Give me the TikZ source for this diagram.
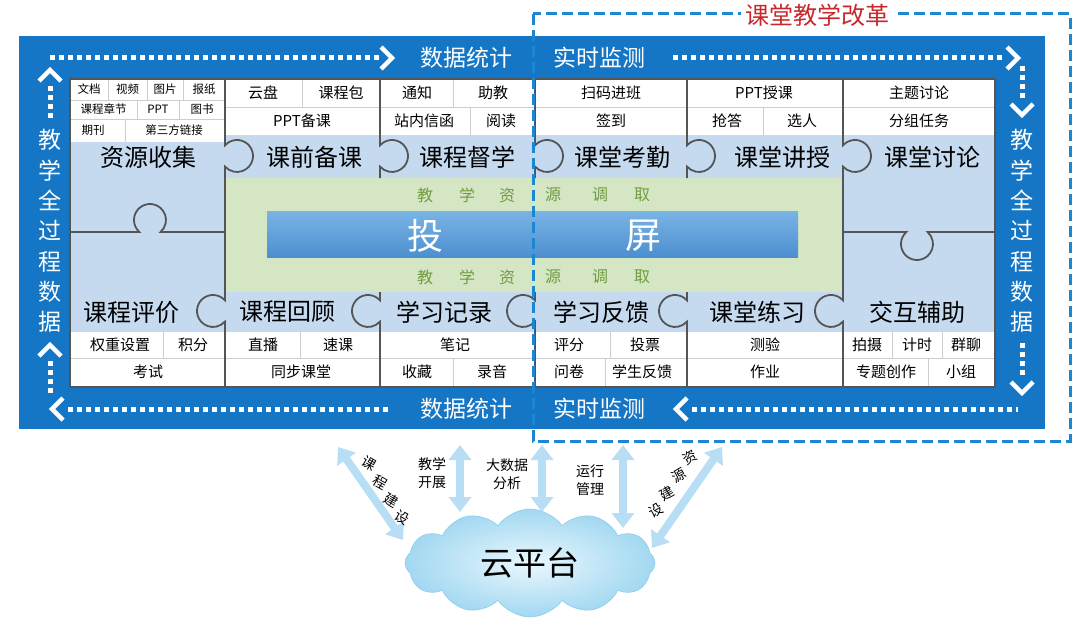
\documentclass[tikz,border=0pt]{standalone}
\usepackage{fontspec}
\setmainfont{Noto Sans CJK SC}
\usetikzlibrary{arrows.meta,shapes.symbols}
\definecolor{bandblue}{RGB}{20,118,196}
\definecolor{lblue}{RGB}{197,218,238}
\definecolor{lgreen}{RGB}{212,230,196}
\definecolor{gtext}{RGB}{114,156,66}
\definecolor{pline}{RGB}{85,85,85}
\definecolor{gridc}{RGB}{205,205,205}
\definecolor{dblue}{RGB}{27,135,210}
\definecolor{rtext}{RGB}{200,40,45}
\definecolor{arrblue}{RGB}{184,222,246}
\definecolor{barTop}{RGB}{122,180,228}
\definecolor{barBot}{RGB}{76,143,208}
\definecolor{cloudin}{RGB}{234,247,253}
\definecolor{cloudout}{RGB}{162,216,241}
\definecolor{cloudedge}{RGB}{140,205,236}
\begin{document}
\begin{tikzpicture}[x=1pt,y=-1pt,
  cell/.style={font=\fontsize{15}{15}\selectfont, inner sep=0pt},
  smallcell/.style={font=\fontsize{11.5}{11.5}\selectfont, inner sep=0pt},
  headtxt/.style={font=\fontsize{24}{24}\selectfont, inner sep=0pt},
  bandtxt/.style={font=\fontsize{23}{23}\selectfont, text=white, inner sep=0pt},
  vtext/.style={font=\fontsize{23}{30.3}\selectfont, text=white, align=center, inner sep=0pt},
  gtxt/.style={font=\fontsize{16}{16}\selectfont, text=gtext, inner sep=0pt},
  puz/.style={draw=pline, line width=1.8pt},
  gridl/.style={draw=gridc, line width=0.8pt},
  dotline/.style={draw=white, line width=5pt, dash pattern=on 5pt off 4pt},
  chev/.style={draw=white, line width=4.5pt, miter limit=10},
  redframe/.style={draw=dblue, line width=3pt, dash pattern=on 11pt off 5pt},
  dbl/.style={draw=arrblue, line width=8pt, {Triangle[width=22pt,length=15pt]}-{Triangle[width=22pt,length=15pt]}},
  lab/.style={font=\fontsize{14}{18}\selectfont, align=center, inner sep=0pt},
]
\useasboundingbox (0,0) rectangle (1080,618);

% blue band
\fill[bandblue] (19,36) rectangle (1045,429);

% panel fills
\fill[white] (70,79) rectangle (995,387);
\fill[lblue] (70,142) rectangle (225,332);
\fill[lblue] (225,135) rectangle (995,178);
\fill[lblue] (843,135) rectangle (995,332);
\fill[lblue] (225,292) rectangle (843,332);
\fill[lgreen] (225,178) rectangle (843,292);

% projection bar
\node[minimum width=531pt, minimum height=46pt, inner sep=0pt, top color=barTop, bottom color=barBot] (bar) at (532.5,234) {};
\node[font=\fontsize{36}{36}\selectfont, text=white, inner sep=0pt] (tou) at (425,236) {投};
\node[font=\fontsize{36}{36}\selectfont, text=white, inner sep=0pt] (ping) at (643,236) {屏};

% green texts
\foreach \ch/\xx [count=\k] in {教/425,学/467,资/507,源/553,调/600,取/642} {
  \node[gtxt] (gt\k) at (\xx,195) {\ch};
  \node[gtxt] (gb\k) at (\xx,277) {\ch};
}

% grid lines
\draw[gridl] (70,100) -- (225,100) (70,119) -- (225,119);
\draw[gridl] (108,79) -- (108,100) (147,79) -- (147,100) (183,79) -- (183,100);
\draw[gridl] (137,100) -- (137,119) (179,100) -- (179,119);
\draw[gridl] (125,119) -- (125,142);
\draw[gridl] (225,107) -- (995,107);
\draw[gridl] (302,79) -- (302,107) (453,79) -- (453,107);
\draw[gridl] (470,107) -- (470,135) (763,107) -- (763,135);
\draw[gridl] (70,358) -- (995,358);
\draw[gridl] (163,332) -- (163,358) (300,332) -- (300,358) (610,332) -- (610,358) (892,332) -- (892,358) (942,332) -- (942,358);
\draw[gridl] (453,358) -- (453,387) (605,358) -- (605,387) (928,358) -- (928,387);

% puzzle lines
\draw[puz] (225,79) -- (225,145.4) arc[start angle=-138.6,end angle=138.6,radius=16] -- (225,300.4) arc[start angle=-41.4,end angle=-318.6,radius=16] -- (225,387);
\draw[puz] (843,79) -- (843,145.4) arc[start angle=-138.6,end angle=138.6,radius=16] -- (843,300.4) arc[start angle=-41.4,end angle=-318.6,radius=16] -- (843,387);
\foreach \X in {380,535,687} {
  \draw[puz] (\X,79) -- (\X,145.4) arc[start angle=-138.6,end angle=138.6,radius=16] -- (\X,178);
  \draw[puz] (\X,292) -- (\X,300.4) arc[start angle=-41.4,end angle=-318.6,radius=16] -- (\X,387);
}
\draw[puz] (70,232) -- (139.4,232) arc[start angle=131.4,end angle=408.6,radius=16] -- (225,232);
\draw[puz] (843,232) -- (906.4,232) arc[start angle=228.6,end angle=-48.6,radius=16] -- (995,232);
\draw[puz] (70,79) rectangle (995,387);

% top cells
\node[smallcell] (c1) at (89,89.5) {文档};
\node[smallcell] (c2) at (127.5,89.5) {视频};
\node[smallcell] (c3) at (165,89.5) {图片};
\node[smallcell] (c4) at (204,89.5) {报纸};
\node[smallcell] (c5) at (103.5,109.5) {课程章节};
\node[smallcell] (c6) at (158,109.5) {PPT};
\node[smallcell] (c7) at (202,109.5) {图书};
\node[smallcell] (c8) at (93,130.5) {期刊};
\node[smallcell] (c9) at (174,130.5) {第三方链接};
\node[cell] (t1) at (263,93) {云盘};
\node[cell] (t2) at (341,93) {课程包};
\node[cell] (t3) at (302,121) {PPT备课};
\node[cell] (t4) at (417,93) {通知};
\node[cell] (t5) at (493,93) {助教};
\node[cell] (t6) at (424,121) {站内信函};
\node[cell] (t7) at (501,121) {阅读};
\node[cell] (t8) at (611,93) {扫码进班};
\node[cell] (t9) at (611,121) {签到};
\node[cell] (t10) at (764,93) {PPT授课};
\node[cell] (t11) at (727,121) {抢答};
\node[cell] (t12) at (802,121) {选人};
\node[cell] (t13) at (919,93) {主题讨论};
\node[cell] (t14) at (919,121) {分组任务};

% bottom cells
\node[cell] (b1) at (120,345) {权重设置};
\node[cell] (b2) at (193,345) {积分};
\node[cell] (b3) at (148,372) {考试};
\node[cell] (b4) at (263,345) {直播};
\node[cell] (b5) at (338,345) {速课};
\node[cell] (b6) at (301,372) {同步课堂};
\node[cell] (b7) at (455,345) {笔记};
\node[cell] (b8) at (417,372) {收藏};
\node[cell] (b9) at (492,372) {录音};
\node[cell] (b10) at (569,345) {评分};
\node[cell] (b11) at (645,345) {投票};
\node[cell] (b12) at (569,372) {问卷};
\node[cell] (b13) at (642,372) {学生反馈};
\node[cell] (b14) at (765,345) {测验};
\node[cell] (b15) at (765,372) {作业};
\node[cell] (b16) at (867,345) {拍摄};
\node[cell] (b17) at (917,345) {计时};
\node[cell] (b18) at (966,345) {群聊};
\node[cell] (b19) at (886,372) {专题创作};
\node[cell] (b20) at (961,372) {小组};

% headers
\node[headtxt] (h1) at (148,157) {资源收集};
\node[headtxt] (h2) at (314,157) {课前备课};
\node[headtxt] (h3) at (467,157) {课程督学};
\node[headtxt] (h4) at (622,157) {课堂考勤};
\node[headtxt] (h5) at (782,157) {课堂讲授};
\node[headtxt] (h6) at (932,157) {课堂讨论};
\node[headtxt] (h7) at (131,312) {课程评价};
\node[headtxt] (h8) at (287,312) {课程回顾};
\node[headtxt] (h9) at (444,312) {学习记录};
\node[headtxt] (h10) at (601,312) {学习反馈};
\node[headtxt] (h11) at (757,312) {课堂练习};
\node[headtxt] (h12) at (917,312) {交互辅助};

% band texts
\node[bandtxt] (s1) at (466,58) {数据统计};
\node[bandtxt] (s2) at (599,58) {实时监测};
\node[bandtxt] (s3) at (466,409) {数据统计};
\node[bandtxt] (s4) at (599,409) {实时监测};
\node[vtext] (v1) at (50,231) {教\\学\\全\\过\\程\\数\\据};
\node[vtext] (v2) at (1022,231) {教\\学\\全\\过\\程\\数\\据};

% dotted arrows
\draw[dotline] (50,58) -- (380,58);
\draw[chev] (381,47) -- (392,58) -- (381,69);
\draw[dotline] (673,58) -- (1005,58);
\draw[chev] (1007,47) -- (1018,58) -- (1007,69);
\draw[dotline] (1022,66) -- (1022,100);
\draw[chev] (1011,104) -- (1022,115) -- (1033,104);
\draw[dotline] (1022,343) -- (1022,378);
\draw[chev] (1011,382) -- (1022,393) -- (1033,382);
\draw[chev] (63,398) -- (52,409) -- (63,420);
\draw[dotline] (68,409) -- (390,409);
\draw[chev] (687,398) -- (676,409) -- (687,420);
\draw[dotline] (692,409) -- (1018,409);
\draw[chev] (39,81) -- (50,70) -- (61,81);
\draw[dotline] (50,86) -- (50,118);
\draw[chev] (39,356) -- (50,345) -- (61,356);
\draw[dotline] (50,361) -- (50,395);

% dashed reform frame
\draw[redframe] (533,14) rectangle (1070,441);
\node[font=\fontsize{24}{24}\selectfont, text=rtext, fill=white, inner xsep=4pt, inner ysep=2pt] (reform) at (817,15) {课堂教学改革};

% cloud platform
\node[cloud, cloud puffs=12, cloud puff arc=110, aspect=2.3, minimum width=250pt, minimum height=108pt, draw=cloudedge, line width=0.6pt, inner color=cloudin, outer color=cloudout, font=\fontsize{33}{33}\selectfont] (cloud) at (530,563) {云平台};

\coordinate (a1s) at (338,447); \coordinate (a1e) at (403,540);
\coordinate (a2s) at (460,445); \coordinate (a2e) at (460,512);
\coordinate (a3s) at (542,445); \coordinate (a3e) at (542,512);
\coordinate (a4s) at (623,445); \coordinate (a4e) at (623,528);
\coordinate (a5s) at (722,447); \coordinate (a5e) at (652,548);
\draw[dbl] (a1s) -- (a1e);
\draw[dbl] (a2s) -- (a2e);
\draw[dbl] (a3s) -- (a3e);
\draw[dbl] (a4s) -- (a4e);
\draw[dbl] (a5s) -- (a5e);

\node[lab] (l2) at (432,473) {教学\\开展};
\node[lab] (l3) at (507,474) {大数据\\分析};
\node[lab] (l4) at (590,480) {运行\\管理};
\node[lab, rotate=-30] (k1) at (369,463) {课};
\node[lab, rotate=-30] (k2) at (380,482) {程};
\node[lab, rotate=-30] (k3) at (391,500) {建};
\node[lab, rotate=-30] (k4) at (402,518) {设};
\node[lab, rotate=30] (r1) at (690,457) {资};
\node[lab, rotate=30] (r2) at (679,475) {源};
\node[lab, rotate=30] (r3) at (667,493) {建};
\node[lab, rotate=30] (r4) at (656,511) {设};
\end{tikzpicture}
\end{document}
